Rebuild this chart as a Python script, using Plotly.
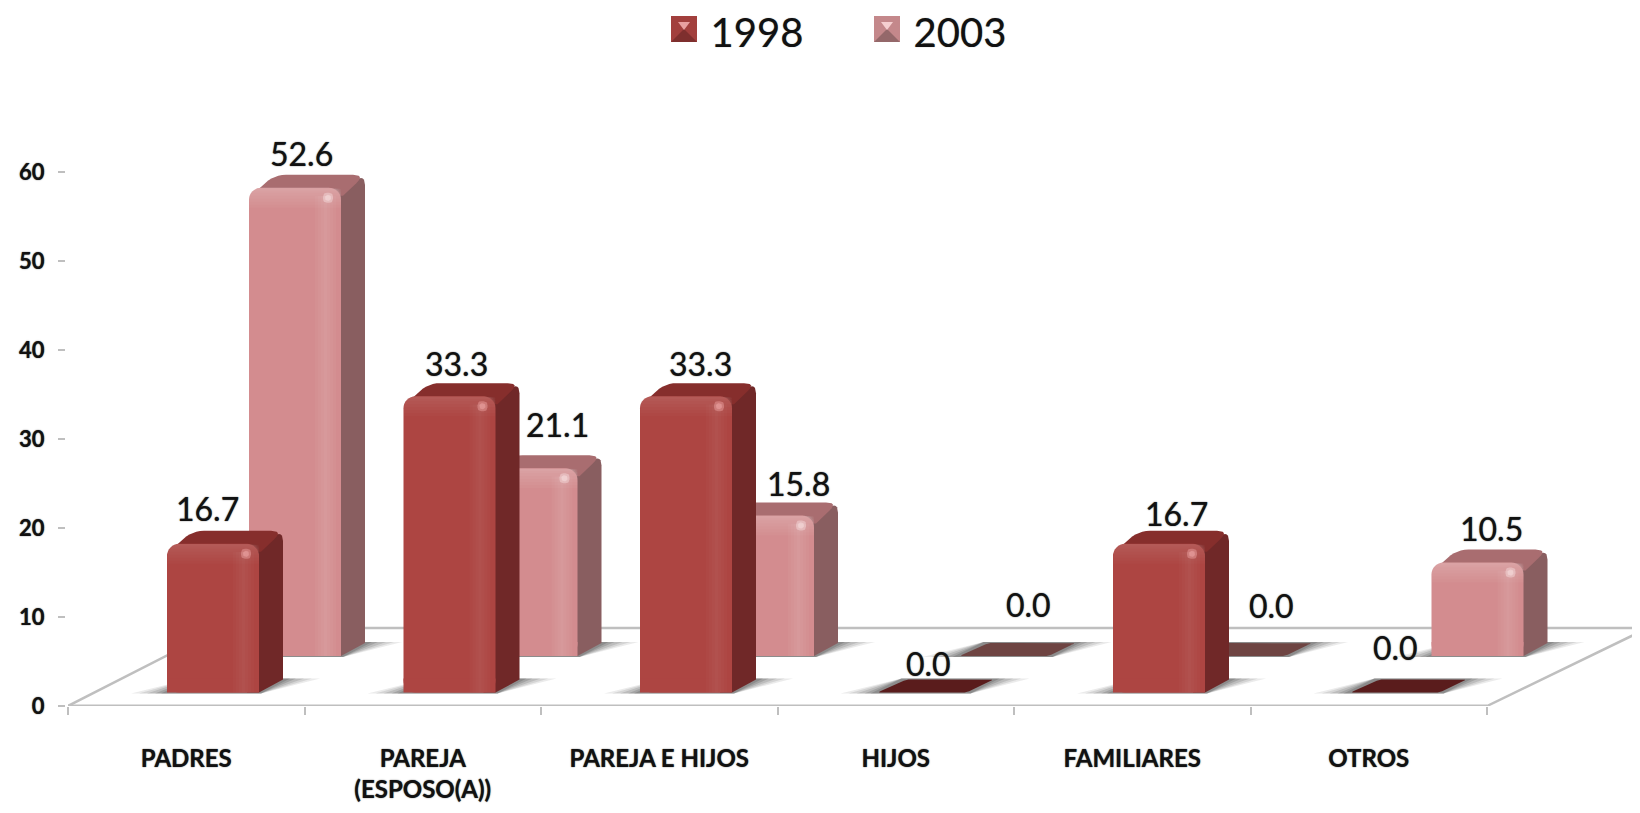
import plotly.graph_objects as go

categories = ["PADRES", "PAREJA<br>(ESPOSO(A))", "PAREJA E HIJOS", "HIJOS", "FAMILIARES", "OTROS"]
series_names = ["1998", "2003"]
values_1998 = [16.7, 33.3, 33.3, 0.0, 16.7, 0.0]
values_2003 = [52.6, 21.1, 15.8, 0.0, 0.0, 10.5]
y_ticks = [0, 10, 20, 30, 40, 50, 60]

# label nudges relative to the bar's front-top centre (pixels)
label_dx_1998 = [-6, 7, 14, 6, 17, 0]
label_dy_1998 = [35, 33, 33, 29, 30, 45]
label_dx_2003 = [6, 26, 30, 24, 30, 14]
label_dy_2003 = [34, 44, 32, 52, 51, 34]

# page body has an 8px margin, so the figure is 8px smaller and coordinates are shifted
W, H = 1632, 805
L, R, T, B = 60, 1479, 164, 698
CW = (R - L) / 6
PY = (B - T) / 60
FONT = "Lato"
GREY = "#BFBFBF"
BLUR = "0 0 1.2px rgba(0,0,0,0.8)"

def xu(px): return px / CW
def yu(px): return px / PY

DX, DY = 25, 13
BW = 92
STYLE = {
    "1998": dict(center=145, floor=13.5, front="#AD4542", side="#702828", top="#862E2C",
                 plate="#5A1C1C", band="rgba(255,255,255,0.02)", spot="rgba(255,190,190,0.35)", zf=5),
    "2003": dict(center=227, floor=50, front="#D38C8F", side="#895E60", top="#A96D70",
                 plate="#6E4442", band="rgba(255,255,255,0.035)", spot="rgba(255,240,240,0.35)", zf=2),
}

def round_poly(pts, radii, n=6):
    xs, ys = [], []
    m = len(pts)
    for i, (px, py) in enumerate(pts):
        r = radii[i]
        ax, ay = pts[i - 1]
        bx, by = pts[(i + 1) % m]
        if r <= 0:
            xs.append(px); ys.append(py); continue
        def toward(qx, qy):
            d = ((qx - px) ** 2 + (qy - py) ** 2) ** 0.5
            f = min(r / d, 0.5) if d else 0
            return px + (qx - px) * f, py + (qy - py) * f
        s = toward(ax, ay); e = toward(bx, by)
        for k in range(n + 1):
            t = k / n
            xs.append((1 - t) ** 2 * s[0] + 2 * t * (1 - t) * px + t * t * e[0])
            ys.append((1 - t) ** 2 * s[1] + 2 * t * (1 - t) * py + t * t * e[1])
    return xs + xs[:1], ys + ys[:1]

fig = go.Figure()

def poly(px_pts, color, z, radii=None):
    # px_pts are (x px from axis origin, y px above the floor front edge)
    radii = radii or [0] * len(px_pts)
    xs, ys = round_poly(px_pts, radii)
    fig.add_trace(go.Scatter(x=[xu(a) for a in xs], y=[yu(b) for b in ys], mode="lines",
                             fill="toself", fillcolor=color, line=dict(width=0),
                             cliponaxis=False, showlegend=False, hoverinfo="skip", zorder=z))

# floor
fig.add_trace(go.Scatter(
    x=[0, xu(153), xu(R - L + 161), xu(R - L)],
    y=[0, yu(78), yu(78), 0], mode="lines", line=dict(color=GREY, width=2.5),
    cliponaxis=False, showlegend=False, hoverinfo="skip", zorder=0))
fig.add_trace(go.Scatter(
    x=[0, xu(R - L)], y=[0, 0], mode="lines", line=dict(color=GREY, width=3),
    cliponaxis=False, showlegend=False, hoverinfo="skip", zorder=0))

def draw_series(name, values, ldx, ldy):
    s = STYLE[name]
    centers = [i + xu(s["center"]) for i in range(6)]
    zf = s["zf"]
    base_px = s["floor"]
    for i, v in enumerate(values):
        cx = CW * i + s["center"]
        x0, x1 = cx - BW / 2, cx + BW / 2
        b = base_px
        t = b + v * PY
        # floor shadow
        for grow, a in ((36, .10), (28, .13), (20, .16), (12, .19), (6, .22)):
            poly([(x0 - grow, b - 1), (x1 + 2, b - 1), (x1 + DX + grow, b + DY + 1), (x0 + DX, b + DY + 1)],
                 f"rgba(60,60,60,{a})", zf - 1 if zf > 2 else 1)
        if v > 0:
            # side
            poly([(x1 - 12, t - 6), (x1 + DX - 1, t + DY), (x1 + DX - 1, b + DY), (x1, b), (x1 - 12, b)],
                 s["side"], zf, [0, 10, 0, 0, 0])
            # top
            poly([(x0 + 2, t - 8), (x0 + DX, t + DY), (x1 + DX - 1, t + DY), (x1 + 2, t - 8)],
                 s["top"], zf, [0, 12, 12, 0])
        else:
            poly([(x0 + 1, b), (x0 + DX + 5, b + DY), (x1 + DX, b + DY), (x1 - 2, b)],
                 s["plate"], zf + 1, [3, 3, 3, 3])
    # front faces
    fig.add_trace(go.Bar(x=centers, y=values, base=yu(base_px), width=xu(BW), name=name,
                         marker=dict(color=s["front"], cornerradius=12, line=dict(width=0)),
                         showlegend=False, hoverinfo="skip", zorder=zf + 1))
    # square off the foot of each bar
    foot = [min(v, yu(14)) for v in values]
    fig.add_trace(go.Bar(x=centers, y=foot, base=yu(base_px), width=xu(BW),
                         marker=dict(color=s["front"], line=dict(width=0)),
                         showlegend=False, hoverinfo="skip", zorder=zf + 1))
    # bevels
    for i, v in enumerate(values):
        if v <= 0:
            continue
        cx = CW * i + s["center"]
        x0, x1 = cx - BW / 2, cx + BW / 2
        b = base_px
        t = b + v * PY
        for inset in (0, 3, 6, 9):
            poly([(x1 - 26 + inset, b), (x1 - 26 + inset, t - 8), (x1 - inset - 5, t - 8), (x1 - inset - 5, b)],
                 s["band"], zf + 2)
        for h in (20, 17, 14, 11, 8, 5, 3):
            poly([(x0, t - h), (x0, t), (x1, t), (x1, t - h)], s["band"], zf + 2, [0, 12, 12, 0])
        for g in (0, 2):
            poly([(x1 - 18 + g, t - 15 + g), (x1 - 18 + g, t - 5 - g), (x1 - 8 - g, t - 5 - g), (x1 - 8 - g, t - 15 + g)],
                 s["spot"], zf + 2, [4, 4, 4, 4])
    # value labels
    for i, v in enumerate(values):
        fig.add_annotation(x=centers[i], y=yu(base_px) + v, text=f"{v:.1f}", showarrow=False,
                           xshift=ldx[i], yshift=ldy[i],
                           font=dict(family=FONT, size=32, color="#111111", shadow=BLUR))

draw_series("2003", values_2003, label_dx_2003, label_dy_2003)
draw_series("1998", values_1998, label_dx_1998, label_dy_1998)

# legend entries (the swatch itself is larger than legend markers can be)
for name in series_names:
    fig.add_trace(go.Scatter(x=[None], y=[None], mode="markers", name=name,
                             marker=dict(symbol="square", size=4, color="rgba(0,0,0,0)"), zorder=0))

def xp(px): return (px - L) / (W - L)
def yp(py): return (B - py) / (B - T)

shapes = []
for x0, dark, mid, tri in ((663, "#7E2F2E", "#A23F3D", "#E8A0A0"), (866, "#94686A", "#C4888B", "#F5CFD0")):
    y0, s = 8, 26
    shapes.append(dict(type="rect", xref="paper", yref="paper", x0=xp(x0), x1=xp(x0 + s), y0=yp(y0), y1=yp(y0 + s),
                       fillcolor=mid, line=dict(width=0), layer="above"))
    shapes.append(dict(type="path", xref="paper", yref="paper",
                       path=f"M {xp(x0)} {yp(y0 + s)} L {xp(x0 + s)} {yp(y0 + s)} L {xp(x0 + s / 2)} {yp(y0 + s / 2)} Z",
                       fillcolor=dark, line=dict(width=0), layer="above"))
    shapes.append(dict(type="path", xref="paper", yref="paper",
                       path=f"M {xp(x0 + 7)} {yp(y0 + 6)} L {xp(x0 + s - 7)} {yp(y0 + 6)} L {xp(x0 + s / 2)} {yp(y0 + 14)} Z",
                       fillcolor=tri, line=dict(width=0), layer="above"))

fig.update_layout(
    width=W, height=H, autosize=False, showlegend=True, barmode="overlay",
    paper_bgcolor="white", plot_bgcolor="white",
    margin=dict(l=L, r=0, t=T, b=H - B, pad=0, autoexpand=False),
    font=dict(family=FONT, color="#111111"),
    shapes=shapes,
    legend=dict(orientation="h", xref="paper", yref="paper", x=xp(662.6), y=yp(23), xanchor="left", yanchor="middle",
                font=dict(family=FONT, size=40, color="#111111", shadow="0 0 1px rgba(0,0,0,0.5)"), itemwidth=30,
                entrywidth=158, entrywidthmode="pixels", bgcolor="rgba(0,0,0,0)", traceorder="normal"),
    xaxis=dict(range=[0, (W - L) / CW], tickvals=[i + 0.5 for i in range(6)], ticktext=categories,
               showgrid=False, zeroline=False, showline=False, tickangle=0,
               ticks="", tickfont=dict(family=FONT, size=24, color="#111111", weight="bold", shadow=BLUR),
               ticklabelstandoff=36,
               minor=dict(tickvals=list(range(7)), ticks="outside", ticklen=8, tickcolor=GREY, tickwidth=2, showgrid=False)),
    yaxis=dict(range=[0, 60], tickvals=y_ticks, showgrid=False, zeroline=False, showline=True,
               linecolor=GREY, linewidth=3, ticks="outside", ticklen=7, tickcolor=GREY, tickwidth=2,
               tickfont=dict(family=FONT, size=22, color="#111111", weight="bold", shadow=BLUR), ticklabelstandoff=9),
)

fig.write_html("out.html")
